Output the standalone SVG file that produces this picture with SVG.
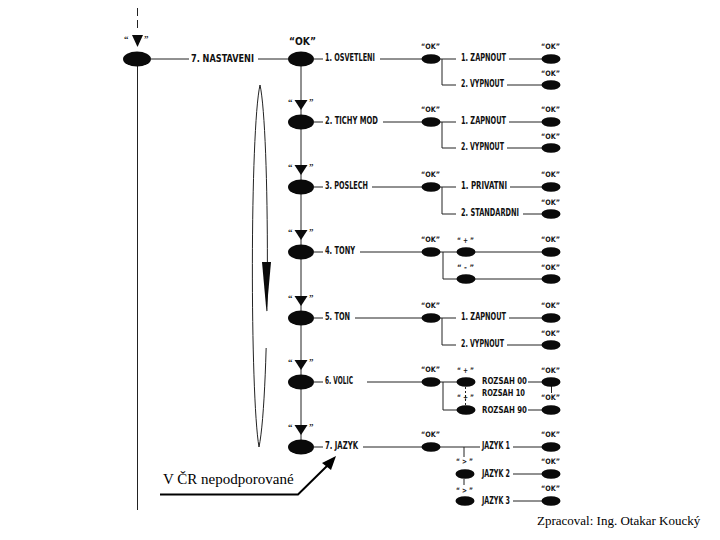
<svg xmlns="http://www.w3.org/2000/svg" xmlns:xlink="http://www.w3.org/1999/xlink" width="720" height="540" viewBox="0 0 720 540">
<style>
.t{font-family:"DejaVu Sans Condensed","DejaVu Sans",sans-serif;font-weight:bold;font-size:11px;fill:#111}
.r{font-size:9.5px}
.ok{font-family:"DejaVu Sans Condensed","DejaVu Sans",sans-serif;font-weight:bold;font-size:7.5px;fill:#111}
.q{font-family:"Liberation Serif",serif;font-weight:bold;font-size:9px;fill:#111}
.sf{font-family:"Liberation Serif",serif;fill:#000}
.ln{stroke:#222;stroke-width:1;fill:none}
.dot{stroke:#222;stroke-width:1;fill:none;stroke-dasharray:2 2}
.dash{stroke:#222;stroke-width:1;fill:none;stroke-dasharray:8 4}
.b{fill:#0a0a0a}
</style>
<defs>
<path id="tri" d="M-6.5,0 L6.5,0 L0,10 Z"/>
<ellipse id="big" rx="13" ry="7.5"/>
<ellipse id="sm" rx="9.5" ry="4.8"/>
</defs>
<rect width="720" height="540" fill="#fff"/>

<g id="connectors">
<line class="dash" x1="137.5" y1="8" x2="137.5" y2="30"/>
<line class="ln" x1="137.5" y1="59" x2="137.5" y2="510"/>
<line class="ln" x1="151" y1="59" x2="189" y2="59"/>
<line class="ln" x1="258" y1="59" x2="288" y2="59"/>
<line class="ln" x1="301" y1="59" x2="301" y2="447"/>
<line class="ln" x1="314" y1="59" x2="323" y2="59"/>
<line class="ln" x1="314" y1="122" x2="323" y2="122"/>
<line class="ln" x1="314" y1="187" x2="323" y2="187"/>
<line class="ln" x1="314" y1="252" x2="323" y2="252"/>
<line class="ln" x1="314" y1="318" x2="323" y2="318"/>
<line class="ln" x1="314" y1="382" x2="323" y2="382"/>
<line class="ln" x1="314" y1="447" x2="323" y2="447"/>
<line class="ln" x1="380" y1="59" x2="422" y2="59"/>
<line class="ln" x1="383" y1="122" x2="422" y2="122"/>
<line class="ln" x1="372" y1="187" x2="422" y2="187"/>
<line class="ln" x1="360" y1="252" x2="422" y2="252"/>
<line class="ln" x1="355" y1="318" x2="422" y2="318"/>
<line class="ln" x1="367" y1="382" x2="422" y2="382"/>
<line class="ln" x1="363" y1="447" x2="422" y2="447"/>
<path class="ln" d="M440,59 H456 M442,59 V85 H456 M509,59 H542 M507,85 H542"/>
<path class="ln" d="M440,122 H456 M442,122 V148 H456 M509,122 H542 M507,148 H542"/>
<path class="ln" d="M440,187 H456 M442,187 V214 H456 M510,187 H542 M523,214 H542"/>
<path class="ln" d="M440,252 H542 M443,252 V279 H542"/>
<path class="ln" d="M440,318 H456 M442,318 V345 H456 M509,318 H542 M507,345 H542"/>
<path class="ln" d="M440,382 H457 M443,382 V410 H457 M528,382 H542 M528,410 H542 M551.5,386 V393"/>
<line class="dot" x1="465.5" y1="387" x2="465.5" y2="405"/>
<path class="ln" d="M440,447 H480 M464,447 V457 M464,479 V485 M513,447 H542 M513,474 H542 M513,501 H542"/>
<path class="ln" d="M259,447 C250,395 250,130 260,85 C270,130 270,395 259,447"/>
<rect x="262" y="311" width="9" height="37" fill="#fff"/>
<polygon class="b" points="262,262 271,262 266.5,312"/>
<path d="M160,494.5 H298 L329,464" stroke="#000" stroke-width="2" fill="none"/>
<polygon points="336,456 322,463 331,470" fill="#000"/>
</g>

<g id="start">
<text class="q" x="124" y="42">“</text>
<polygon class="b" points="132,35 143,35 137.5,47"/>
<text class="q" x="144" y="42">”</text>
<ellipse class="b" cx="137" cy="59" rx="14" ry="7.5"/>
</g>
<g id="nastaveni"><text class="t" x="191" y="62" font-size="12" textLength="63" lengthAdjust="spacingAndGlyphs">7. NASTAVENI</text></g>
<g id="ok-main">
<text class="t" x="289" y="45" font-size="12.5" textLength="27" lengthAdjust="spacingAndGlyphs">“OK”</text>
<use href="#big" xlink:href="#big" class="b" x="301" y="59"/>
</g>

<g id="row1">
<text class="t" x="325" y="61" textLength="50" lengthAdjust="spacingAndGlyphs">1. OSVETLENI</text>
<text class="ok" x="421" y="49" textLength="19" lengthAdjust="spacingAndGlyphs">“OK”</text>
<use href="#sm" xlink:href="#sm" class="b" x="431" y="59"/>
<text class="t" x="461" y="61" textLength="45" lengthAdjust="spacingAndGlyphs">1. ZAPNOUT</text>
<text class="t" x="461" y="87" textLength="43" lengthAdjust="spacingAndGlyphs">2. VYPNOUT</text>
<text class="ok" x="541" y="49" textLength="19" lengthAdjust="spacingAndGlyphs">“OK”</text>
<use href="#sm" xlink:href="#sm" class="b" x="551" y="59"/>
<text class="ok" x="541" y="76" textLength="19" lengthAdjust="spacingAndGlyphs">“OK”</text>
<use href="#sm" xlink:href="#sm" class="b" x="551" y="85"/>
</g>

<g id="row2">
<text class="q" x="288" y="105">“</text><use href="#tri" xlink:href="#tri" class="b" x="301" y="100"/><text class="q" x="309" y="105">”</text>
<use href="#big" xlink:href="#big" class="b" x="301" y="122"/>
<text class="t" x="325" y="124" textLength="53" lengthAdjust="spacingAndGlyphs">2. TICHY MOD</text>
<text class="ok" x="421" y="112" textLength="19" lengthAdjust="spacingAndGlyphs">“OK”</text>
<use href="#sm" xlink:href="#sm" class="b" x="431" y="122"/>
<text class="t" x="461" y="124" textLength="45" lengthAdjust="spacingAndGlyphs">1. ZAPNOUT</text>
<text class="t" x="461" y="150" textLength="43" lengthAdjust="spacingAndGlyphs">2. VYPNOUT</text>
<text class="ok" x="541" y="112" textLength="19" lengthAdjust="spacingAndGlyphs">“OK”</text>
<use href="#sm" xlink:href="#sm" class="b" x="551" y="122"/>
<text class="ok" x="541" y="139" textLength="19" lengthAdjust="spacingAndGlyphs">“OK”</text>
<use href="#sm" xlink:href="#sm" class="b" x="551" y="148"/>
</g>

<g id="row3">
<text class="q" x="288" y="170">“</text><use href="#tri" xlink:href="#tri" class="b" x="301" y="165"/><text class="q" x="309" y="170">”</text>
<use href="#big" xlink:href="#big" class="b" x="301" y="187"/>
<text class="t" x="325" y="189" textLength="43" lengthAdjust="spacingAndGlyphs">3. POSLECH</text>
<text class="ok" x="421" y="177" textLength="19" lengthAdjust="spacingAndGlyphs">“OK”</text>
<use href="#sm" xlink:href="#sm" class="b" x="431" y="187"/>
<text class="t" x="461" y="189" textLength="46" lengthAdjust="spacingAndGlyphs">1. PRIVATNI</text>
<text class="t" x="461" y="216" textLength="58" lengthAdjust="spacingAndGlyphs">2. STANDARDNI</text>
<text class="ok" x="541" y="177" textLength="19" lengthAdjust="spacingAndGlyphs">“OK”</text>
<use href="#sm" xlink:href="#sm" class="b" x="551" y="187"/>
<text class="ok" x="541" y="205" textLength="19" lengthAdjust="spacingAndGlyphs">“OK”</text>
<use href="#sm" xlink:href="#sm" class="b" x="551" y="214"/>
</g>

<g id="row4">
<text class="q" x="288" y="235">“</text><use href="#tri" xlink:href="#tri" class="b" x="301" y="230"/><text class="q" x="309" y="235">”</text>
<use href="#big" xlink:href="#big" class="b" x="301" y="252"/>
<text class="t" x="325" y="254" textLength="30" lengthAdjust="spacingAndGlyphs">4. TONY</text>
<text class="ok" x="421" y="242" textLength="19" lengthAdjust="spacingAndGlyphs">“OK”</text>
<use href="#sm" xlink:href="#sm" class="b" x="431" y="252"/>
<text class="ok" x="457" y="243" textLength="17" lengthAdjust="spacingAndGlyphs">“ + ”</text>
<use href="#sm" xlink:href="#sm" class="b" x="466" y="252"/>
<text class="ok" x="457" y="270" textLength="17" lengthAdjust="spacingAndGlyphs">“ - ”</text>
<use href="#sm" xlink:href="#sm" class="b" x="466" y="279"/>
<text class="ok" x="541" y="242" textLength="19" lengthAdjust="spacingAndGlyphs">“OK”</text>
<use href="#sm" xlink:href="#sm" class="b" x="551" y="252"/>
<text class="ok" x="541" y="270" textLength="19" lengthAdjust="spacingAndGlyphs">“OK”</text>
<use href="#sm" xlink:href="#sm" class="b" x="551" y="279"/>
</g>

<g id="row5">
<text class="q" x="288" y="301">“</text><use href="#tri" xlink:href="#tri" class="b" x="301" y="296"/><text class="q" x="309" y="301">”</text>
<use href="#big" xlink:href="#big" class="b" x="301" y="318"/>
<text class="t" x="325" y="320" textLength="25" lengthAdjust="spacingAndGlyphs">5. TON</text>
<text class="ok" x="421" y="308" textLength="19" lengthAdjust="spacingAndGlyphs">“OK”</text>
<use href="#sm" xlink:href="#sm" class="b" x="431" y="318"/>
<text class="t" x="461" y="320" textLength="45" lengthAdjust="spacingAndGlyphs">1. ZAPNOUT</text>
<text class="t" x="461" y="347" textLength="43" lengthAdjust="spacingAndGlyphs">2. VYPNOUT</text>
<text class="ok" x="541" y="308" textLength="19" lengthAdjust="spacingAndGlyphs">“OK”</text>
<use href="#sm" xlink:href="#sm" class="b" x="551" y="318"/>
<text class="ok" x="541" y="336" textLength="19" lengthAdjust="spacingAndGlyphs">“OK”</text>
<use href="#sm" xlink:href="#sm" class="b" x="551" y="345"/>
</g>

<g id="row6">
<text class="q" x="288" y="365">“</text><use href="#tri" xlink:href="#tri" class="b" x="301" y="360"/><text class="q" x="309" y="365">”</text>
<use href="#big" xlink:href="#big" class="b" x="301" y="382"/>
<text class="t" x="325" y="384" textLength="28" lengthAdjust="spacingAndGlyphs">6. VOLIC</text>
<text class="ok" x="421" y="372" textLength="19" lengthAdjust="spacingAndGlyphs">“OK”</text>
<use href="#sm" xlink:href="#sm" class="b" x="431" y="382"/>
<text class="ok" x="457" y="373" textLength="17" lengthAdjust="spacingAndGlyphs">“ + ”</text>
<use href="#sm" xlink:href="#sm" class="b" x="466" y="382"/>
<text class="ok" x="457" y="400" textLength="17" lengthAdjust="spacingAndGlyphs">“ + ”</text>
<use href="#sm" xlink:href="#sm" class="b" x="466" y="410"/>
<text class="t r" x="482" y="384" textLength="45" lengthAdjust="spacingAndGlyphs">ROZSAH 00</text>
<text class="t r" x="482" y="396" textLength="43" lengthAdjust="spacingAndGlyphs">ROZSAH 10</text>
<text class="t r" x="482" y="413" textLength="45" lengthAdjust="spacingAndGlyphs">ROZSAH 90</text>
<text class="ok" x="541" y="373" textLength="19" lengthAdjust="spacingAndGlyphs">“OK”</text>
<use href="#sm" xlink:href="#sm" class="b" x="551" y="382"/>
<text class="ok" x="541" y="400" textLength="19" lengthAdjust="spacingAndGlyphs">“OK”</text>
<use href="#sm" xlink:href="#sm" class="b" x="551" y="410"/>
</g>

<g id="row7">
<text class="q" x="288" y="430">“</text><use href="#tri" xlink:href="#tri" class="b" x="301" y="425"/><text class="q" x="309" y="430">”</text>
<use href="#big" xlink:href="#big" class="b" x="301" y="447"/>
<text class="t" x="325" y="449" textLength="33" lengthAdjust="spacingAndGlyphs">7. JAZYK</text>
<text class="ok" x="421" y="437" textLength="19" lengthAdjust="spacingAndGlyphs">“OK”</text>
<use href="#sm" xlink:href="#sm" class="b" x="431" y="447"/>
<text class="ok" x="456" y="464" textLength="17" lengthAdjust="spacingAndGlyphs">“ &gt; ”</text>
<use href="#sm" xlink:href="#sm" class="b" x="465" y="474"/>
<text class="ok" x="456" y="493" textLength="17" lengthAdjust="spacingAndGlyphs">“ &gt; ”</text>
<use href="#sm" xlink:href="#sm" class="b" x="465" y="501"/>
<text class="t" x="482" y="449" textLength="28" lengthAdjust="spacingAndGlyphs">JAZYK 1</text>
<text class="t" x="482" y="477" textLength="28" lengthAdjust="spacingAndGlyphs">JAZYK 2</text>
<text class="t" x="482" y="504" textLength="28" lengthAdjust="spacingAndGlyphs">JAZYK 3</text>
<text class="ok" x="541" y="437" textLength="19" lengthAdjust="spacingAndGlyphs">“OK”</text>
<use href="#sm" xlink:href="#sm" class="b" x="551" y="447"/>
<text class="ok" x="541" y="464" textLength="19" lengthAdjust="spacingAndGlyphs">“OK”</text>
<use href="#sm" xlink:href="#sm" class="b" x="551" y="474"/>
<text class="ok" x="541" y="491" textLength="19" lengthAdjust="spacingAndGlyphs">“OK”</text>
<use href="#sm" xlink:href="#sm" class="b" x="551" y="501"/>
</g>

<g id="notes">
<text class="sf" x="163" y="484" font-size="15">V ČR nepodporované</text>
<text class="sf" x="537" y="525" font-size="13">Zpracoval: Ing. Otakar Koucký</text>
</g>
</svg>
